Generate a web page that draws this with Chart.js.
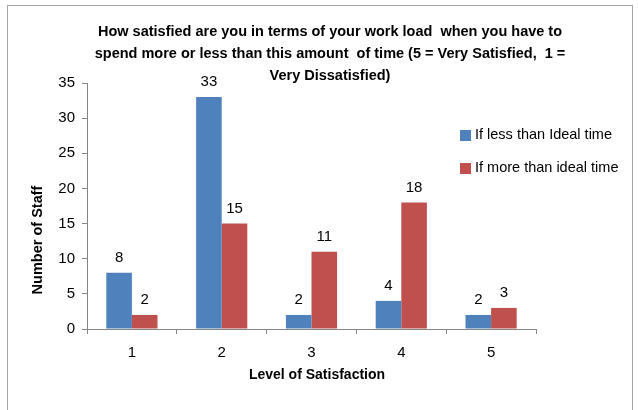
<!DOCTYPE html>
<html>
<head>
<meta charset="utf-8">
<script src="https://cdn.jsdelivr.net/npm/chart.js@4"></script>
<style>
  html, body { margin: 0; padding: 0; background: #fff; }
  #wrap { width: 638px; height: 410px; position: relative; }
</style>
</head>
<body>
<div id="wrap"><canvas id="c" width="638" height="410"></canvas></div>
<script>
const LEVELS = ["1", "2", "3", "4", "5"];
const LESS_THAN_IDEAL = [8, 33, 2, 4, 2];
const MORE_THAN_IDEAL = [2, 15, 11, 18, 3];
const SERIES_NAMES = ["If less than Ideal time", "If more than ideal time"];
const COLORS = ["#4f81bd", "#c0504d"];
const TITLE_LINES = [
  "How satisfied are you in terms of your work load  when you have to",
  "spend more or less than this amount  of time (5 = Very Satisfied,  1 =",
  "Very Dissatisfied)",
];
const FONT = "'Liberation Sans', Arial, sans-serif";

// border, title, axis titles, legend and value labels
const decor = {
  id: "decor",
  beforeDraw(chart) {
    const ctx = chart.ctx;
    ctx.save();
    ctx.fillStyle = "#fff";
    ctx.fillRect(0, 0, chart.width, chart.height);
    ctx.strokeStyle = "#a6a6a6";
    ctx.lineWidth = 1;
    ctx.strokeRect(7.5, 5.5, 625, 420);
    ctx.restore();
  },
  afterDraw(chart) {
    const ctx = chart.ctx;
    ctx.save();
    ctx.fillStyle = "#000";
    ctx.textAlign = "center";
    ctx.textBaseline = "middle";
    ctx.font = "bold 14.5px " + FONT;
    TITLE_LINES.forEach((t, i) => ctx.fillText(t, 330, 32 + i * 22));

    ctx.font = "bold 14px " + FONT;
    ctx.fillText("Level of Satisfaction", 317, 375);
    ctx.save();
    ctx.translate(38, 240);
    ctx.rotate(-Math.PI / 2);
    ctx.font = "bold 14.5px " + FONT;
    ctx.fillText("Number of Staff", 0, 0);
    ctx.restore();

    // legend
    ctx.font = "14.5px " + FONT;
    ctx.textAlign = "left";
    SERIES_NAMES.forEach((name, i) => {
      const y = 135 + i * 33;
      ctx.fillStyle = COLORS[i];
      ctx.fillRect(460, y - 5, 11, 11);
      ctx.fillStyle = "#000";
      ctx.fillText(name, 475, y);
    });

    // value labels
    ctx.font = "15px " + FONT;
    ctx.textAlign = "center";
    chart.data.datasets.forEach((ds, di) => {
      chart.getDatasetMeta(di).data.forEach((bar, i) => {
        ctx.fillText(String(ds.data[i]), bar.x, bar.y - 15);
      });
    });
    ctx.restore();
  },
};

new Chart(document.getElementById("c"), {
  type: "bar",
  data: {
    labels: LEVELS,
    datasets: [
      { label: SERIES_NAMES[0], data: LESS_THAN_IDEAL, backgroundColor: COLORS[0] },
      { label: SERIES_NAMES[1], data: MORE_THAN_IDEAL, backgroundColor: COLORS[1] },
    ],
  },
  options: {
    responsive: false,
    animation: false,
    devicePixelRatio: 1,
    layout: { padding: { top: 83, right: 102, left: 0, bottom: 0 } },
    datasets: { bar: { categoryPercentage: 0.57, barPercentage: 1.0 } },
    plugins: { legend: { display: false }, title: { display: false }, tooltip: { enabled: false } },
    scales: {
      x: {
        afterFit: (s) => { s.height = 81; },
        grid: { display: true, drawOnChartArea: false, tickLength: 5, color: "#868686", offset: true },
        border: { color: "#868686" },
        ticks: { color: "#000", font: { family: FONT, size: 15 }, padding: 10 },
      },
      y: {
        min: 0,
        max: 35,
        afterFit: (s) => { s.width = 87; },
        grid: { display: true, drawOnChartArea: false, tickLength: 5, color: "#868686" },
        border: { color: "#868686" },
        ticks: { stepSize: 5, color: "#000", font: { family: FONT, size: 15 }, padding: 7 },
      },
    },
  },
  plugins: [decor],
});
</script>
</body>
</html>
